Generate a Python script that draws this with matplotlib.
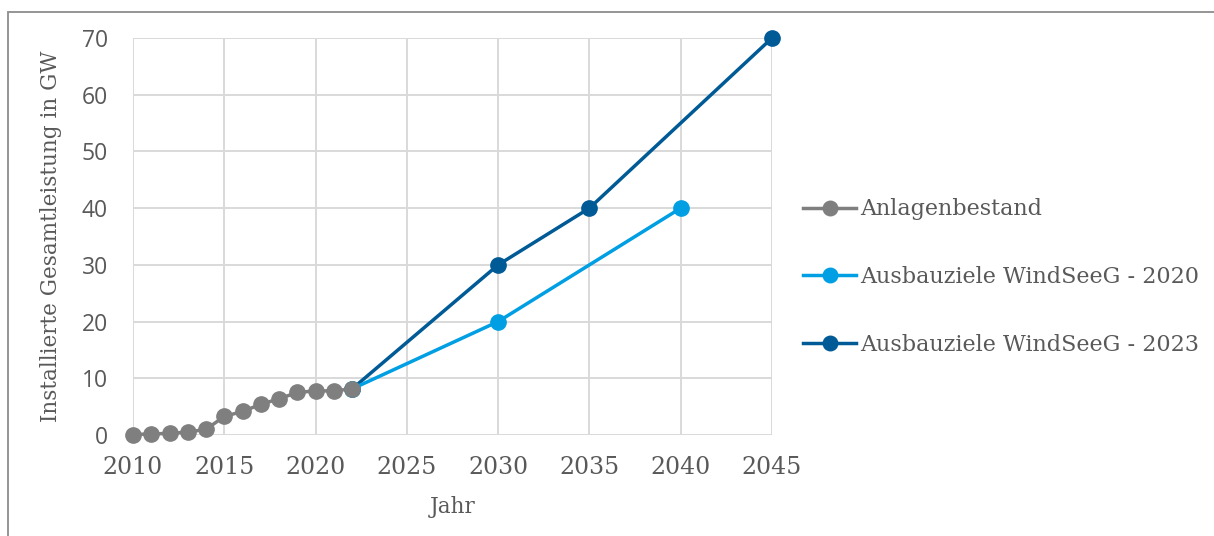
import matplotlib.pyplot as plt
from matplotlib.patches import Rectangle

# Offshore wind capacity in Germany (GW)
jahre_bestand = [2010, 2011, 2012, 2013, 2014, 2015, 2016, 2017, 2018, 2019, 2020, 2021, 2022]
bestand = [0.08, 0.19, 0.28, 0.52, 0.99, 3.28, 4.15, 5.41, 6.38, 7.51, 7.77, 7.79, 8.13]

jahre_2020 = [2022, 2030, 2040]
ziele_2020 = [8.13, 20, 40]

jahre_2023 = [2022, 2030, 2035, 2045]
ziele_2023 = [8.13, 30, 40, 70]

x_ticks = [2010, 2015, 2020, 2025, 2030, 2035, 2040, 2045]
y_ticks = [0, 10, 20, 30, 40, 50, 60, 70]

text_col = '#595959'
serif = 'DejaVu Serif'

fig = plt.figure(figsize=(12.14, 5.36), dpi=100)
fig.patches.append(Rectangle((8 / 1214, -0.1), 1.2, 1.1 - 12 / 536, transform=fig.transFigure,
                             fill=False, edgecolor='#8c8c8c', linewidth=1.3))

ax = fig.add_axes([133 / 1214, 1 - 435 / 536, (772 - 133) / 1214, (435 - 38) / 536])

ax.plot(jahre_2023, ziele_2023, color='#005a96', lw=2.5, marker='o', ms=11,
        label='Ausbauziele WindSeeG - 2023', zorder=3, clip_on=False)
ax.plot(jahre_2020, ziele_2020, color='#009fe3', lw=2.5, marker='o', ms=11,
        label='Ausbauziele WindSeeG - 2020', zorder=4, clip_on=False)
ax.plot(jahre_bestand, bestand, color='#7f7f7f', lw=2.5, marker='o', ms=11,
        label='Anlagenbestand', zorder=5, clip_on=False)

ax.set_xlim(2010, 2045)
ax.set_ylim(0, 70)
ax.set_xticks(x_ticks)
ax.set_yticks(y_ticks)
ax.set_xticklabels([str(t) for t in x_ticks], family=serif, fontsize=17, color=text_col)
ax.set_yticklabels([str(t) for t in y_ticks], family='Open Sans', fontsize=16.5, color=text_col)
ax.tick_params(axis='x', length=0, pad=15)
ax.tick_params(axis='y', length=0, pad=18)
ax.grid(True, color='#d9d9d9', lw=1.4)
ax.set_axisbelow(True)
for s in ax.spines.values():
    s.set_visible(False)

ax.set_xlabel('Jahr', family=serif, fontsize=15.5, color=text_col, labelpad=12)
ax.set_ylabel('Installierte Gesamtleistung in GW', family=serif, fontsize=15.5, color=text_col, labelpad=14)

h, l = ax.get_legend_handles_labels()
leg = fig.legend(h[::-1], l[::-1], loc='center left', bbox_to_anchor=(783 / 1214, 1 - 277 / 536),
                 frameon=False, prop={'family': serif, 'size': 16}, labelspacing=2.05,
                 handlelength=2.4, handletextpad=0.15, markerscale=0.95)
for t in leg.get_texts():
    t.set_color(text_col)

fig.savefig('out.png', dpi=100)
